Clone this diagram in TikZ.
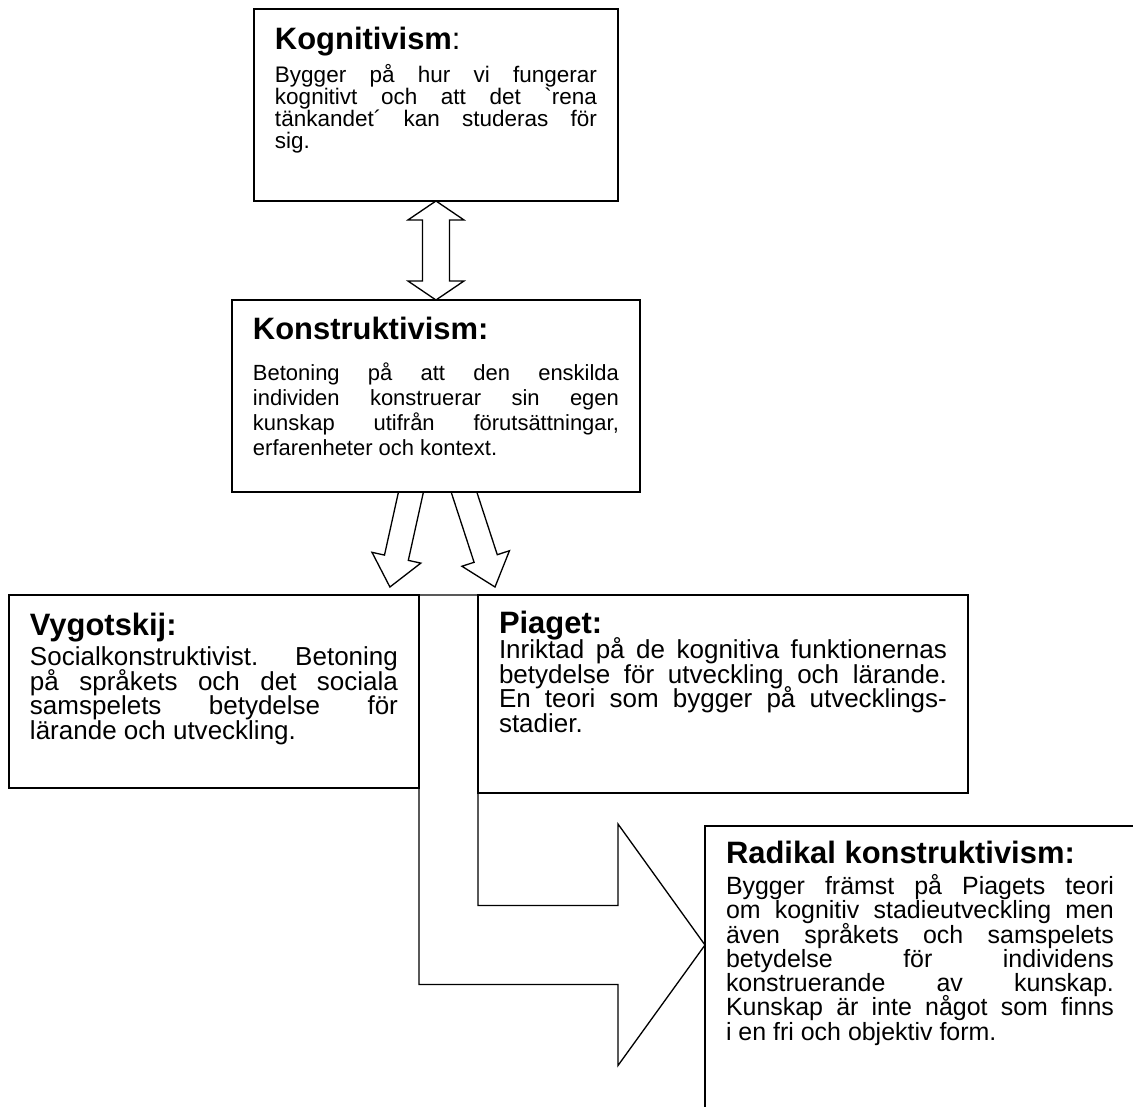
\documentclass[tikz,border=0pt]{standalone}
\usepackage{fontspec}
\setmainfont{Liberation Sans}
\newfontfamily\rak{Liberation Sans}
\usetikzlibrary{calc,backgrounds}

% brodtext i rutorna
\newcommand{\brodinst}{\lineskiplimit=-20pt\hyphenpenalty=10000\tolerance=9999\relax}
\newcommand{\brod}{\fontsize{14.8}{13.9}\selectfont\brodinst}
\newcommand{\brodkog}{\fontsize{12.8}{12.5}\selectfont\brodinst}
\newcommand{\brodkon}{\fontsize{12.5}{14.2}\selectfont\brodinst}
\newcommand{\brodrad}{\fontsize{14.2}{13.8}\selectfont\brodinst}
\newcommand{\rubrik}[1]{{\fontsize{17.6}{17.6}\selectfont #1}}

% ihalig blockpil fran #1 till spetsen #2
\newcommand{\blockpil}[2]{%
  \coordinate (pilrot) at ($(#2)!1.15!(#1)$);
  \coordinate (pilbas) at ($(#2)!0.6cm!(#1)$);
  \draw[pil] ($(pilrot)!0.244cm!90:(#2)$) -- ($(pilbas)!0.244cm!90:(#2)$)
    -- ($(pilbas)!0.5cm!90:(#2)$) -- (#2) -- ($(pilbas)!0.5cm!-90:(#2)$)
    -- ($(pilbas)!0.244cm!-90:(#2)$) -- ($(pilrot)!0.244cm!-90:(#2)$) -- cycle;}

\begin{document}
\begin{tikzpicture}[x=0.02cm, y=-0.02cm,
    ruta/.style={draw, fill=white, line width=0.75pt, anchor=north west,
                 outer sep=0pt, inner xsep=0.42cm, inner ysep=0pt,
                 align=justify, font=\brod},
    pil/.style={draw, fill=white, line width=0.75pt, line join=miter}
  ]
  \useasboundingbox (0,0) rectangle (1133,1106);
  \clip (0,0) rectangle (1133,1106);

  \node[ruta, font=\brodkog, text width=6.44cm, text height=0.82cm, text depth=3.02cm] (kog) at (254,9)
    {\rubrik{\textbf{Kognitivism}:}\\[0.22cm]
     Bygger på hur vi fungerar\linebreak kognitivt och att det {\rak`}rena\linebreak
     tänkandet´ kan studeras för\linebreak sig.};
  \node[ruta, font=\brodkon, text width=7.32cm, text height=0.8cm, text depth=3.04cm] (kon) at (232,300)
    {\rubrik{\textbf{Konstruktivism:}}\\[0.32cm]
     Betoning på att den enskilda\linebreak individen konstruerar sin egen\linebreak
     kunskap utifrån förutsättningar,\linebreak erfarenheter och kontext.};
  \node[ruta, text width=7.36cm, text height=0.8cm, text depth=3.06cm] (vyg) at (9,595)
    {\rubrik{\textbf{Vygotskij:}}\\[0.13cm]
     Socialkonstruktivist. Betoning\linebreak på språkets och det sociala\linebreak
     samspelets betydelse för\linebreak lärande och utveckling.};
  \node[ruta, text width=8.96cm, text height=0.76cm, text depth=3.2cm] (pia) at (478,595)
    {\rubrik{\textbf{Piaget:}}\\[0.03cm]
     Inriktad på de kognitiva funktionernas\linebreak betydelse för utveckling och lärande.\linebreak
     En teori som bygger på utvecklings-\linebreak stadier.};
  \node[ruta, draw=none, fill=none, font=\brodrad, text width=7.76cm, text height=0.74cm, text depth=6cm] (rad) at (705,826)
    {\rubrik{\textbf{Radikal konstruktivism:}}\\[0.15cm]
     Bygger främst på Piagets teori\linebreak om kognitiv stadieutveckling men\linebreak
     även språkets och samspelets\linebreak betydelse för individens\linebreak
     konstruerande av kunskap.\linebreak Kunskap är inte något som finns\linebreak
     i en fri och objektiv form.};

  \begin{scope}[on background layer]
    % dubbelpil kognitivism - konstruktivism
    \draw[pil] (kog.south) -- ++(28,19) -- ++(-14.5,0) -- ($(kon.north)+(13.5,-19)$)
      -- ++(14.5,0) -- (kon.north) -- ++(-28,-19) -- ++(14.5,0)
      -- ($(kog.south)+(-13.5,19)$) -- ++(-14.5,0) -- cycle;
    % pilar ned mot vygotskij och piaget
    \coordinate (v1) at ($(kon.south)+(-25,0)$);
    \coordinate (v1s) at ($(vyg.north east)+(-29,-8)$);
    \coordinate (h1) at ($(kon.south)+(28,0)$);
    \coordinate (h1s) at ($(pia.north west)+(17,-8)$);
    \blockpil{v1}{v1s}
    \blockpil{h1}{h1s}
    % stora pilen mot radikal konstruktivism
    \coordinate (spets) at ($(rad.north west)+(0,119)$);
    \draw[pil] (vyg.north east) |- ($(spets)+(-87,39.5)$) -- ++(0,81) -- (spets)
      -- ($(spets)+(-87,-121)$) -- ++(0,81.5) -| (pia.north west) -- cycle;
    % ramen kring radikal konstruktivism, beskuren av bilden
    \draw[pil] (rad.south west) rectangle ($(rad.north east)+(40,0)$);
  \end{scope}
\end{tikzpicture}
\end{document}
